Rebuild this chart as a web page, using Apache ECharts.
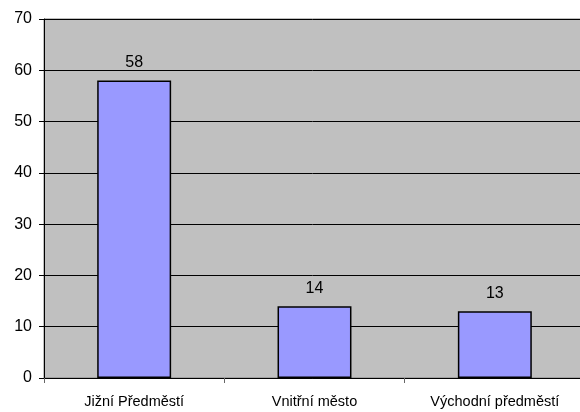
<!DOCTYPE html>
<html><head><meta charset="utf-8">
<script src="https://cdn.jsdelivr.net/npm/echarts@6/dist/echarts.min.js"></script>
<style>html,body{margin:0;padding:0;background:#fff}#c{width:580px;height:412px}</style>
</head><body><div id="c"></div>
<script>
const categories = ['Jižní Předměstí', 'Vnitřní město', 'Východní předměstí'];
const values = [58, 14, 13];
const yTicks = {min: 0, max: 70, interval: 10};

const FONT = 'Liberation Sans, Arial, sans-serif';
const chart = echarts.init(document.getElementById('c'), null, {renderer: 'canvas'});
chart.setOption({
  animation: false,
  textStyle: {fontFamily: FONT},
  grid: {left: 44, width: 541, top: 19, height: 359, containLabel: false, outerBoundsMode: 'none', show: true, backgroundColor: '#C0C0C0', borderColor: '#808080', borderWidth: 1},
  xAxis: {
    type: 'category', data: categories,
    axisLine: {lineStyle: {color: '#000', width: 1}},
    axisTick: {show: true, length: 5, lineStyle: {color: '#666'}},
    axisLabel: {color: '#000', fontSize: 14.5, margin: 16, fontFamily: FONT}
  },
  yAxis: {
    type: 'value', min: yTicks.min, max: yTicks.max, interval: yTicks.interval,
    axisLine: {show: true, lineStyle: {color: '#000', width: 1}},
    axisTick: {show: true, length: 5, lineStyle: {color: '#000'}},
    axisLabel: {color: '#000', fontSize: 16, margin: 12, fontFamily: FONT},
    splitLine: {show: true, lineStyle: {color: '#000', width: 1}}
  },
  series: [{
    type: 'bar', data: values, barWidth: '41%',
    itemStyle: {color: '#9999FF', borderColor: '#000', borderWidth: 1.5},
    label: {show: true, position: 'top', distance: 10, color: '#000', fontSize: 16, fontFamily: FONT}
  }]
});
</script></body></html>
